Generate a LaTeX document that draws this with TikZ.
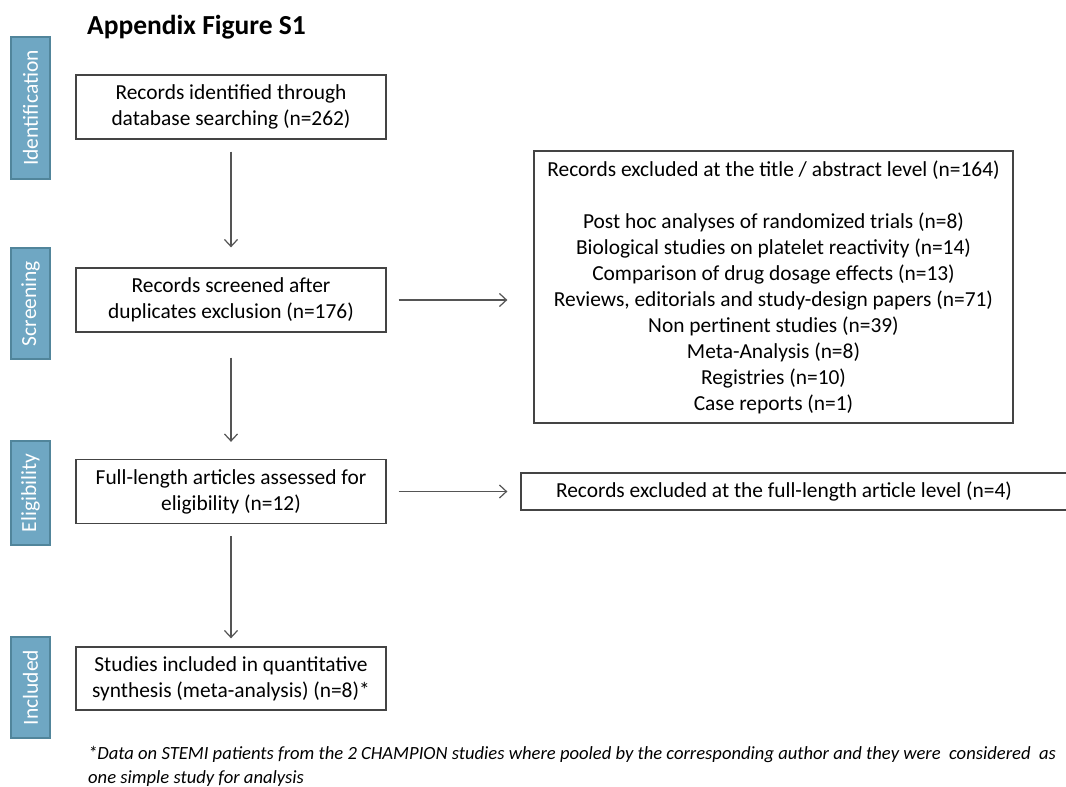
\documentclass[tikz,border=0pt]{standalone}
\usepackage{fontspec}
\setmainfont{Carlito}
\usetikzlibrary{arrows.meta}
\definecolor{stagefill}{HTML}{6FA7C3}
\definecolor{stagedraw}{HTML}{51859B}
\definecolor{boxline}{HTML}{444444}
\definecolor{arrline}{HTML}{555555}
\tikzset{
  stage/.style={draw=stagedraw, line width=2.2pt, fill=stagefill, text=white, rotate=90,
    minimum height=39pt, inner sep=0pt, font=\fontsize{21.5}{24}\selectfont},
  flowbox/.style={draw=boxline, line width=1.3pt, fill=white, align=center, inner sep=0pt,
    font=\fontsize{21.4}{26}\selectfont},
  flowarrow/.style={draw=arrline, line width=1.2pt, -{Straight Barb[length=7pt,width=13pt,line width=1.2pt]}},
}
\begin{document}
\begin{tikzpicture}[x=1pt,y=-1pt]
\useasboundingbox (0,0) rectangle (1066,787);
\fill[white] (0,0) rectangle (1066,787);

\node[font=\fontsize{27.5}{30}\selectfont\bfseries] (title) at (196.5,27) {Appendix Figure S1};

% stage labels
\node[stage, minimum width=142pt] (sid) at (30.5,108) {Identification};
\node[stage, minimum width=111pt] (sscr) at (30.5,303.5) {Screening};
\node[stage, minimum width=104pt] (self) at (30.5,493) {Eligibility};
\node[stage, minimum width=101pt] (sinc) at (30.5,687.5) {Included};

% main boxes
\node[flowbox, minimum width=310pt, minimum height=64pt] (b1) at (231,107)
  {Records identified through\\database searching (n=262)};
\node[flowbox, minimum width=310pt, minimum height=64pt] (b2) at (231,300)
  {Records screened after\\duplicates exclusion (n=176)};
\node[flowbox, minimum width=310pt, minimum height=64pt] (b3) at (231,491.5)
  {Full-length articles assessed for\\eligibility (n=12)};
\node[flowbox, minimum width=310pt, minimum height=63pt] (b4) at (231,678.5)
  {Studies included in quantitative\\synthesis (meta-analysis) (n=8)*};

% exclusion boxes
\node[flowbox, minimum width=479pt, minimum height=272pt] (e1) at (773.5,287)
  {Records excluded at the title / abstract level (n=164)\\[26pt]
   Post hoc analyses of randomized trials (n=8)\\
   Biological studies on platelet reactivity (n=14)\\
   Comparison of drug dosage effects (n=13)\\
   Reviews, editorials and study-design papers (n=71)\\
   Non pertinent studies (n=39)\\
   Meta-Analysis (n=8)\\
   Registries (n=10)\\
   Case reports (n=1)};
\node[flowbox, minimum width=549pt, minimum height=37pt, text depth=0pt] (e2) at (795.5,491.5) {};
\node[font=\fontsize{21.4}{26}\selectfont] (e2t) at (784,491.5)
  {Records excluded at the full-length article level (n=4)};

% arrows
\draw[flowarrow, shorten <=12pt, shorten >=20pt] (b1.south) -- (b2.north);
\draw[flowarrow, shorten <=25pt, shorten >=17pt] (b2.south) -- (b3.north);
\draw[flowarrow, shorten <=12pt, shorten >=8pt] (b3.south) -- (b4.north);
\draw[flowarrow, shorten <=12pt, shorten >=26pt] (b2.east) -- (e1.west |- b2.east);
\draw[flowarrow, shorten <=12pt, shorten >=13pt] (b3.east) -- (e2.west |- b3.east);

% footnote
\node[anchor=north west, align=left, inner sep=0pt, font=\fontsize{18.6}{24}\selectfont\itshape] (note) at (88,746)
  {*Data on STEMI patients from the 2 CHAMPION studies where pooled by the corresponding author and they were\ \ considered\ \ as\\
   one simple study for analysis};
\end{tikzpicture}
\end{document}
